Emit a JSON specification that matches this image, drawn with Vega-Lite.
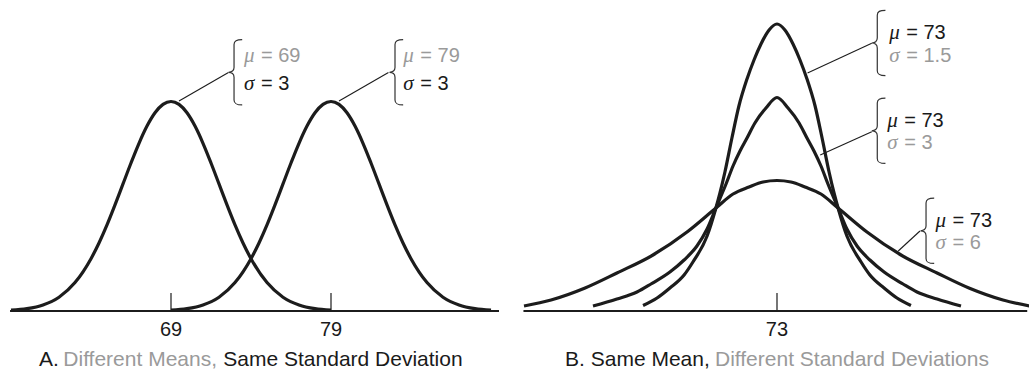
{
  "$schema": "https://vega.github.io/schema/vega-lite/v6.json",
  "padding": 0,
  "spacing": 0,
  "bounds": "flush",
  "background": "white",
  "config": {"view": {"stroke": null}, "text": {"font": "Liberation Sans"}},
  "datasets": {
    "curves": [
      {"p":"A","c":"A69","x":59,"h":0.8},{"p":"A","c":"A69","x":60,"h":2.3},{"p":"A","c":"A69","x":61,"h":6.0},{"p":"A","c":"A69","x":62,"h":13.8},{"p":"A","c":"A69","x":63,"h":28.4},{"p":"A","c":"A69","x":64,"h":52.3},{"p":"A","c":"A69","x":64.5,"h":68.0},{"p":"A","c":"A69","x":65,"h":86.1},{"p":"A","c":"A69","x":65.5,"h":106.1},{"p":"A","c":"A69","x":66,"h":127.1},{"p":"A","c":"A69","x":66.5,"h":148.0},{"p":"A","c":"A69","x":67,"h":167.7},{"p":"A","c":"A69","x":67.5,"h":184.9},{"p":"A","c":"A69","x":68,"h":198.2},{"p":"A","c":"A69","x":68.5,"h":206.6},{"p":"A","c":"A69","x":69,"h":209.5},{"p":"A","c":"A69","x":69.5,"h":206.6},{"p":"A","c":"A69","x":70,"h":198.2},{"p":"A","c":"A69","x":70.5,"h":184.9},{"p":"A","c":"A69","x":71,"h":167.7},{"p":"A","c":"A69","x":71.5,"h":148.0},{"p":"A","c":"A69","x":72,"h":127.1},{"p":"A","c":"A69","x":72.5,"h":106.1},{"p":"A","c":"A69","x":73,"h":86.1},{"p":"A","c":"A69","x":73.5,"h":68.0},{"p":"A","c":"A69","x":74,"h":52.3},{"p":"A","c":"A69","x":75,"h":28.4},{"p":"A","c":"A69","x":76,"h":13.8},{"p":"A","c":"A69","x":77,"h":6.0},{"p":"A","c":"A69","x":78,"h":2.3},{"p":"A","c":"A69","x":79,"h":0.8},
      {"p":"A","c":"A79","x":69,"h":0.8},{"p":"A","c":"A79","x":70,"h":2.3},{"p":"A","c":"A79","x":71,"h":6.0},{"p":"A","c":"A79","x":72,"h":13.8},{"p":"A","c":"A79","x":73,"h":28.4},{"p":"A","c":"A79","x":74,"h":52.3},{"p":"A","c":"A79","x":74.5,"h":68.0},{"p":"A","c":"A79","x":75,"h":86.1},{"p":"A","c":"A79","x":75.5,"h":106.1},{"p":"A","c":"A79","x":76,"h":127.1},{"p":"A","c":"A79","x":76.5,"h":148.0},{"p":"A","c":"A79","x":77,"h":167.7},{"p":"A","c":"A79","x":77.5,"h":184.9},{"p":"A","c":"A79","x":78,"h":198.2},{"p":"A","c":"A79","x":78.5,"h":206.6},{"p":"A","c":"A79","x":79,"h":209.5},{"p":"A","c":"A79","x":79.5,"h":206.6},{"p":"A","c":"A79","x":80,"h":198.2},{"p":"A","c":"A79","x":80.5,"h":184.9},{"p":"A","c":"A79","x":81,"h":167.7},{"p":"A","c":"A79","x":81.5,"h":148.0},{"p":"A","c":"A79","x":82,"h":127.1},{"p":"A","c":"A79","x":82.5,"h":106.1},{"p":"A","c":"A79","x":83,"h":86.1},{"p":"A","c":"A79","x":83.5,"h":68.0},{"p":"A","c":"A79","x":84,"h":52.3},{"p":"A","c":"A79","x":85,"h":28.4},{"p":"A","c":"A79","x":86,"h":13.8},{"p":"A","c":"A79","x":87,"h":6.0},{"p":"A","c":"A79","x":88,"h":2.3},{"p":"A","c":"A79","x":89,"h":0.8},
      {"p":"B","c":"s6","x":59.25,"h":5},{"p":"B","c":"s6","x":60.72,"h":11},{"p":"B","c":"s6","x":62.57,"h":23},{"p":"B","c":"s6","x":64.30,"h":38},{"p":"B","c":"s6","x":66.26,"h":56},{"p":"B","c":"s6","x":68.11,"h":79},{"p":"B","c":"s6","x":69.68,"h":103},{"p":"B","c":"s6","x":70.61,"h":117},{"p":"B","c":"s6","x":71.48,"h":124},{"p":"B","c":"s6","x":72.24,"h":129},{"p":"B","c":"s6","x":73,"h":130.5},{"p":"B","c":"s6","x":73.76,"h":129},{"p":"B","c":"s6","x":74.52,"h":124},{"p":"B","c":"s6","x":75.39,"h":117},{"p":"B","c":"s6","x":76.32,"h":103},{"p":"B","c":"s6","x":77.89,"h":79},{"p":"B","c":"s6","x":79.74,"h":56},{"p":"B","c":"s6","x":81.70,"h":38},{"p":"B","c":"s6","x":83.43,"h":23},{"p":"B","c":"s6","x":85.28,"h":11},{"p":"B","c":"s6","x":86.75,"h":5},
      {"p":"B","c":"s3","x":63.00,"h":5},{"p":"B","c":"s3","x":64.30,"h":12},{"p":"B","c":"s3","x":65.39,"h":19},{"p":"B","c":"s3","x":66.15,"h":27},{"p":"B","c":"s3","x":67.18,"h":39},{"p":"B","c":"s3","x":67.95,"h":51},{"p":"B","c":"s3","x":68.65,"h":65},{"p":"B","c":"s3","x":69.20,"h":82},{"p":"B","c":"s3","x":69.68,"h":103},{"p":"B","c":"s3","x":70.23,"h":127},{"p":"B","c":"s3","x":70.61,"h":145},{"p":"B","c":"s3","x":70.99,"h":160},{"p":"B","c":"s3","x":71.37,"h":173},{"p":"B","c":"s3","x":71.80,"h":188},{"p":"B","c":"s3","x":72.40,"h":203},{"p":"B","c":"s3","x":73,"h":213.5},{"p":"B","c":"s3","x":73.60,"h":203},{"p":"B","c":"s3","x":74.20,"h":188},{"p":"B","c":"s3","x":74.63,"h":173},{"p":"B","c":"s3","x":75.01,"h":160},{"p":"B","c":"s3","x":75.39,"h":145},{"p":"B","c":"s3","x":75.77,"h":127},{"p":"B","c":"s3","x":76.32,"h":103},{"p":"B","c":"s3","x":76.80,"h":82},{"p":"B","c":"s3","x":77.35,"h":65},{"p":"B","c":"s3","x":78.05,"h":51},{"p":"B","c":"s3","x":78.82,"h":39},{"p":"B","c":"s3","x":79.85,"h":27},{"p":"B","c":"s3","x":80.61,"h":19},{"p":"B","c":"s3","x":81.70,"h":12},{"p":"B","c":"s3","x":83.00,"h":5},
      {"p":"B","c":"s15","x":65.72,"h":5.5},{"p":"B","c":"s15","x":66.48,"h":13},{"p":"B","c":"s15","x":67.18,"h":23},{"p":"B","c":"s15","x":67.95,"h":36},{"p":"B","c":"s15","x":68.43,"h":49},{"p":"B","c":"s15","x":69.20,"h":75},{"p":"B","c":"s15","x":69.68,"h":103},{"p":"B","c":"s15","x":69.90,"h":118},{"p":"B","c":"s15","x":70.17,"h":139},{"p":"B","c":"s15","x":70.55,"h":173},{"p":"B","c":"s15","x":70.93,"h":205},{"p":"B","c":"s15","x":71.37,"h":232},{"p":"B","c":"s15","x":71.75,"h":251},{"p":"B","c":"s15","x":72.13,"h":267},{"p":"B","c":"s15","x":72.57,"h":281},{"p":"B","c":"s15","x":73,"h":287},{"p":"B","c":"s15","x":73.43,"h":281},{"p":"B","c":"s15","x":73.87,"h":267},{"p":"B","c":"s15","x":74.25,"h":251},{"p":"B","c":"s15","x":74.63,"h":232},{"p":"B","c":"s15","x":75.07,"h":205},{"p":"B","c":"s15","x":75.45,"h":173},{"p":"B","c":"s15","x":75.83,"h":139},{"p":"B","c":"s15","x":76.10,"h":118},{"p":"B","c":"s15","x":76.32,"h":103},{"p":"B","c":"s15","x":76.80,"h":75},{"p":"B","c":"s15","x":77.57,"h":49},{"p":"B","c":"s15","x":78.05,"h":36},{"p":"B","c":"s15","x":78.82,"h":23},{"p":"B","c":"s15","x":79.52,"h":13},{"p":"B","c":"s15","x":80.28,"h":5.5}
    ],
    "baselines": [
      {"p":"A","x":58.94,"x2":89.5,"h":0},
      {"p":"B","x":59.22,"x2":86.6,"h":0}
    ],
    "ticks": [
      {"p":"A","x":69,"label":"69","h":0,"h2":18,"hl":-25},
      {"p":"A","x":79,"label":"79","h":0,"h2":18,"hl":-25},
      {"p":"B","x":73,"label":"73","h":0,"h2":18,"hl":-25}
    ],
    "notes": [
      {"p":"A","x":73.56,"h":249.3,"sym":"μ","rest":"= 69","tone":"light"},
      {"p":"A","x":73.56,"h":221.5,"sym":"σ","rest":"= 3","tone":"dark"},
      {"p":"A","x":83.52,"h":249.3,"sym":"μ","rest":"= 79","tone":"light"},
      {"p":"A","x":83.52,"h":221.5,"sym":"σ","rest":"= 3","tone":"dark"},
      {"p":"B","x":79.10,"h":272,"sym":"μ","rest":"= 73","tone":"dark"},
      {"p":"B","x":79.10,"h":249.3,"sym":"σ","rest":"= 1.5","tone":"light"},
      {"p":"B","x":78.99,"h":184.3,"sym":"μ","rest":"= 73","tone":"dark"},
      {"p":"B","x":78.99,"h":162,"sym":"σ","rest":"= 3","tone":"light"},
      {"p":"B","x":81.62,"h":83.7,"sym":"μ","rest":"= 73","tone":"dark"},
      {"p":"B","x":81.62,"h":61.7,"sym":"σ","rest":"= 6","tone":"light"}
    ],
    "braces": [
      {"p":"A","x":72.94,"h":238.7},
      {"p":"A","x":83.0,"h":238.7},
      {"p":"B","x":78.45,"h":268},
      {"p":"B","x":78.45,"h":180.2},
      {"p":"B","x":81.10,"h":80.2}
    ],
    "leaders": [
      {"p":"A","x":69.50,"h":210,"x2":72.59,"h2":238.5},
      {"p":"A","x":79.50,"h":210,"x2":82.59,"h2":238.5},
      {"p":"B","x":74.66,"h":238,"x2":78.15,"h2":267.7},
      {"p":"B","x":75.35,"h":156,"x2":78.15,"h2":179.3},
      {"p":"B","x":79.59,"h":60,"x2":80.77,"h2":80}
    ],
    "captions": [
      {"p":"A","x":60.75,"h":-55,"text":"A.","tone":"dark"},
      {"p":"A","x":62.27,"h":-55,"text":"Different Means,","tone":"light"},
      {"p":"A","x":72.27,"h":-55,"text":"Same Standard Deviation","tone":"dark"},
      {"p":"B","x":61.48,"h":-55,"text":"B. Same Mean,","tone":"dark"},
      {"p":"B","x":69.63,"h":-55,"text":"Different Standard Deviations","tone":"light"}
    ]
  },
  "hconcat": [
    {
      "width": 510,
      "height": 371,
      "layer": [
        {
          "data": {"name": "baselines"},
          "transform": [{"filter": "datum.p === 'A'"}],
          "mark": {"type": "rule", "stroke": "#1c1c1c", "strokeWidth": 2},
          "encoding": {
            "x": {"field": "x", "type": "quantitative", "scale": {"domain": [58.3125, 90.1875], "nice": false, "zero": false}, "axis": null},
            "x2": {"field": "x2"},
            "y": {"field": "h", "type": "quantitative", "scale": {"domain": [-60, 311], "nice": false, "zero": false}, "axis": null}
          }
        },
        {
          "data": {"name": "ticks"},
          "transform": [{"filter": "datum.p === 'A'"}],
          "mark": {"type": "rule", "stroke": "#1c1c1c", "strokeWidth": 1.2},
          "encoding": {
            "x": {"field": "x", "type": "quantitative", "scale": {"domain": [58.3125, 90.1875], "nice": false, "zero": false}, "axis": null},
            "y": {"field": "h", "type": "quantitative", "scale": {"domain": [-60, 311], "nice": false, "zero": false}, "axis": null},
            "y2": {"field": "h2"}
          }
        },
        {
          "data": {"name": "ticks"},
          "transform": [{"filter": "datum.p === 'A'"}],
          "mark": {"type": "text", "fontSize": 20, "align": "center", "baseline": "alphabetic", "fill": "#1a1a1a"},
          "encoding": {
            "x": {"field": "x", "type": "quantitative", "scale": {"domain": [58.3125, 90.1875], "nice": false, "zero": false}, "axis": null},
            "y": {"field": "hl", "type": "quantitative", "scale": {"domain": [-60, 311], "nice": false, "zero": false}, "axis": null},
            "text": {"field": "label"}
          }
        },
        {
          "data": {"name": "curves"},
          "transform": [{"filter": "datum.p === 'A'"}],
          "mark": {"type": "line", "interpolate": "monotone", "stroke": "#1c1c1c", "strokeWidth": 3.2},
          "encoding": {
            "x": {"field": "x", "type": "quantitative", "scale": {"domain": [58.3125, 90.1875], "nice": false, "zero": false}, "axis": null},
            "y": {"field": "h", "type": "quantitative", "scale": {"domain": [-60, 311], "nice": false, "zero": false}, "axis": null},
            "detail": {"field": "c"}
          }
        },
        {
          "data": {"name": "leaders"},
          "transform": [{"filter": "datum.p === 'A'"}],
          "mark": {"type": "rule", "stroke": "#1c1c1c", "strokeWidth": 1.1},
          "encoding": {
            "x": {"field": "x", "type": "quantitative", "scale": {"domain": [58.3125, 90.1875], "nice": false, "zero": false}, "axis": null},
            "y": {"field": "h", "type": "quantitative", "scale": {"domain": [-60, 311], "nice": false, "zero": false}, "axis": null},
            "x2": {"field": "x2"},
            "y2": {"field": "h2"}
          }
        },
        {
          "data": {"name": "braces"},
          "transform": [{"filter": "datum.p === 'A'"}],
          "mark": {"type": "point", "shape": "M 0.25 -1 C 0.08 -1 0 -0.97 0 -0.85 L 0 -0.15 C 0 -0.05 -0.07 0 -0.17 0 C -0.07 0 0 0.05 0 0.15 L 0 0.85 C 0 0.97 0.08 1 0.25 1", "size": 4250, "filled": false, "stroke": "#333333", "strokeWidth": 1.2, "opacity": 1},
          "encoding": {
            "x": {"field": "x", "type": "quantitative", "scale": {"domain": [58.3125, 90.1875], "nice": false, "zero": false}, "axis": null},
            "y": {"field": "h", "type": "quantitative", "scale": {"domain": [-60, 311], "nice": false, "zero": false}, "axis": null}
          }
        },
        {
          "data": {"name": "notes"},
          "transform": [{"filter": "datum.p === 'A'"}],
          "mark": {"type": "text", "font": "Liberation Serif", "fontStyle": "italic", "fontSize": 21, "align": "left", "baseline": "alphabetic"},
          "encoding": {
            "x": {"field": "x", "type": "quantitative", "scale": {"domain": [58.3125, 90.1875], "nice": false, "zero": false}, "axis": null},
            "y": {"field": "h", "type": "quantitative", "scale": {"domain": [-60, 311], "nice": false, "zero": false}, "axis": null},
            "text": {"field": "sym"},
            "color": {"field": "tone", "type": "nominal", "scale": {"domain": ["dark", "light"], "range": ["#1a1a1a", "#9a9a9a"]}, "legend": null}
          }
        },
        {
          "data": {"name": "notes"},
          "transform": [{"filter": "datum.p === 'A'"}],
          "mark": {"type": "text", "fontSize": 20, "align": "left", "baseline": "alphabetic", "dx": 17},
          "encoding": {
            "x": {"field": "x", "type": "quantitative", "scale": {"domain": [58.3125, 90.1875], "nice": false, "zero": false}, "axis": null},
            "y": {"field": "h", "type": "quantitative", "scale": {"domain": [-60, 311], "nice": false, "zero": false}, "axis": null},
            "text": {"field": "rest"},
            "color": {"field": "tone", "type": "nominal", "scale": {"domain": ["dark", "light"], "range": ["#1a1a1a", "#9a9a9a"]}, "legend": null}
          }
        },
        {
          "data": {"name": "captions"},
          "transform": [{"filter": "datum.p === 'A'"}],
          "mark": {"type": "text", "fontSize": 21, "align": "left", "baseline": "alphabetic"},
          "encoding": {
            "x": {"field": "x", "type": "quantitative", "scale": {"domain": [58.3125, 90.1875], "nice": false, "zero": false}, "axis": null},
            "y": {"field": "h", "type": "quantitative", "scale": {"domain": [-60, 311], "nice": false, "zero": false}, "axis": null},
            "text": {"field": "text"},
            "color": {"field": "tone", "type": "nominal", "scale": {"domain": ["dark", "light"], "range": ["#1a1a1a", "#9a9a9a"]}, "legend": null}
          }
        }
      ]
    },
    {
      "width": 519,
      "height": 371,
      "layer": [
        {
          "data": {"name": "baselines"},
          "transform": [{"filter": "datum.p === 'B'"}],
          "mark": {"type": "rule", "stroke": "#1c1c1c", "strokeWidth": 2},
          "encoding": {
            "x": {"field": "x", "type": "quantitative", "scale": {"domain": [58.489, 86.696], "nice": false, "zero": false}, "axis": null},
            "x2": {"field": "x2"},
            "y": {"field": "h", "type": "quantitative", "scale": {"domain": [-60, 311], "nice": false, "zero": false}, "axis": null}
          }
        },
        {
          "data": {"name": "ticks"},
          "transform": [{"filter": "datum.p === 'B'"}],
          "mark": {"type": "rule", "stroke": "#1c1c1c", "strokeWidth": 1.2},
          "encoding": {
            "x": {"field": "x", "type": "quantitative", "scale": {"domain": [58.489, 86.696], "nice": false, "zero": false}, "axis": null},
            "y": {"field": "h", "type": "quantitative", "scale": {"domain": [-60, 311], "nice": false, "zero": false}, "axis": null},
            "y2": {"field": "h2"}
          }
        },
        {
          "data": {"name": "ticks"},
          "transform": [{"filter": "datum.p === 'B'"}],
          "mark": {"type": "text", "fontSize": 20, "align": "center", "baseline": "alphabetic", "fill": "#1a1a1a"},
          "encoding": {
            "x": {"field": "x", "type": "quantitative", "scale": {"domain": [58.489, 86.696], "nice": false, "zero": false}, "axis": null},
            "y": {"field": "hl", "type": "quantitative", "scale": {"domain": [-60, 311], "nice": false, "zero": false}, "axis": null},
            "text": {"field": "label"}
          }
        },
        {
          "data": {"name": "curves"},
          "transform": [{"filter": "datum.p === 'B'"}],
          "mark": {"type": "line", "interpolate": "monotone", "stroke": "#1c1c1c", "strokeWidth": 3.2},
          "encoding": {
            "x": {"field": "x", "type": "quantitative", "scale": {"domain": [58.489, 86.696], "nice": false, "zero": false}, "axis": null},
            "y": {"field": "h", "type": "quantitative", "scale": {"domain": [-60, 311], "nice": false, "zero": false}, "axis": null},
            "detail": {"field": "c"}
          }
        },
        {
          "data": {"name": "leaders"},
          "transform": [{"filter": "datum.p === 'B'"}],
          "mark": {"type": "rule", "stroke": "#1c1c1c", "strokeWidth": 1.1},
          "encoding": {
            "x": {"field": "x", "type": "quantitative", "scale": {"domain": [58.489, 86.696], "nice": false, "zero": false}, "axis": null},
            "y": {"field": "h", "type": "quantitative", "scale": {"domain": [-60, 311], "nice": false, "zero": false}, "axis": null},
            "x2": {"field": "x2"},
            "y2": {"field": "h2"}
          }
        },
        {
          "data": {"name": "braces"},
          "transform": [{"filter": "datum.p === 'B'"}],
          "mark": {"type": "point", "shape": "M 0.25 -1 C 0.08 -1 0 -0.97 0 -0.85 L 0 -0.15 C 0 -0.05 -0.07 0 -0.17 0 C -0.07 0 0 0.05 0 0.15 L 0 0.85 C 0 0.97 0.08 1 0.25 1", "size": 4250, "filled": false, "stroke": "#333333", "strokeWidth": 1.2, "opacity": 1},
          "encoding": {
            "x": {"field": "x", "type": "quantitative", "scale": {"domain": [58.489, 86.696], "nice": false, "zero": false}, "axis": null},
            "y": {"field": "h", "type": "quantitative", "scale": {"domain": [-60, 311], "nice": false, "zero": false}, "axis": null}
          }
        },
        {
          "data": {"name": "notes"},
          "transform": [{"filter": "datum.p === 'B'"}],
          "mark": {"type": "text", "font": "Liberation Serif", "fontStyle": "italic", "fontSize": 21, "align": "left", "baseline": "alphabetic"},
          "encoding": {
            "x": {"field": "x", "type": "quantitative", "scale": {"domain": [58.489, 86.696], "nice": false, "zero": false}, "axis": null},
            "y": {"field": "h", "type": "quantitative", "scale": {"domain": [-60, 311], "nice": false, "zero": false}, "axis": null},
            "text": {"field": "sym"},
            "color": {"field": "tone", "type": "nominal", "scale": {"domain": ["dark", "light"], "range": ["#1a1a1a", "#9a9a9a"]}, "legend": null}
          }
        },
        {
          "data": {"name": "notes"},
          "transform": [{"filter": "datum.p === 'B'"}],
          "mark": {"type": "text", "fontSize": 20, "align": "left", "baseline": "alphabetic", "dx": 17},
          "encoding": {
            "x": {"field": "x", "type": "quantitative", "scale": {"domain": [58.489, 86.696], "nice": false, "zero": false}, "axis": null},
            "y": {"field": "h", "type": "quantitative", "scale": {"domain": [-60, 311], "nice": false, "zero": false}, "axis": null},
            "text": {"field": "rest"},
            "color": {"field": "tone", "type": "nominal", "scale": {"domain": ["dark", "light"], "range": ["#1a1a1a", "#9a9a9a"]}, "legend": null}
          }
        },
        {
          "data": {"name": "captions"},
          "transform": [{"filter": "datum.p === 'B'"}],
          "mark": {"type": "text", "fontSize": 21, "align": "left", "baseline": "alphabetic"},
          "encoding": {
            "x": {"field": "x", "type": "quantitative", "scale": {"domain": [58.489, 86.696], "nice": false, "zero": false}, "axis": null},
            "y": {"field": "h", "type": "quantitative", "scale": {"domain": [-60, 311], "nice": false, "zero": false}, "axis": null},
            "text": {"field": "text"},
            "color": {"field": "tone", "type": "nominal", "scale": {"domain": ["dark", "light"], "range": ["#1a1a1a", "#9a9a9a"]}, "legend": null}
          }
        }
      ]
    }
  ]
}
